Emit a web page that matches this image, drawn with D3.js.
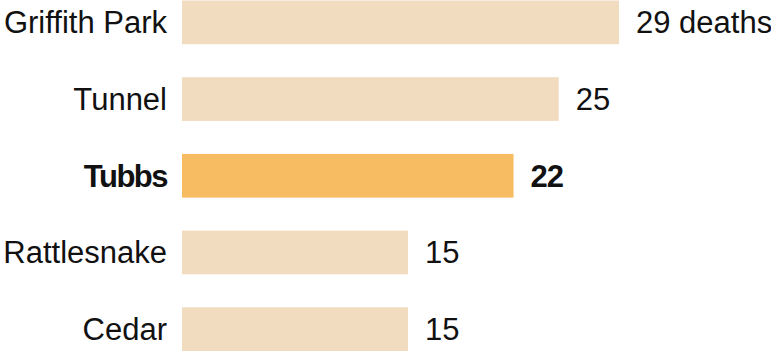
<!DOCTYPE html>
<html><head><meta charset="utf-8">
<script src="https://cdn.jsdelivr.net/npm/d3@7"></script>
<style>body{margin:0;background:#fff}svg{display:block}</style>
</head><body>
<script>
const categories = ["Griffith Park","Tunnel","Tubbs","Rattlesnake","Cedar"];
const values = [29,25,22,15,15];
const valueLabels = ["29 deaths","25","22","15","15"];
const highlight = "Tubbs";

const W=771,H=352;
const svg=d3.select("body").append("svg").attr("width",W).attr("height",H);
const x=d3.scaleLinear().domain([0,29]).range([182,619]);
const y=d3.scaleBand().domain(categories).range([0.5,351]).paddingInner(0.43).paddingOuter(0);
const font="'Liberation Sans',Arial,sans-serif";
const fs=31;

const data=categories.map((c,i)=>({c,v:values[i],l:valueLabels[i]}));
svg.selectAll("rect").data(data).join("rect")
 .attr("x",x(0)).attr("y",d=>y(d.c)).attr("width",d=>x(d.v)-x(0)).attr("height",y.bandwidth())
 .attr("fill",d=>d.c===highlight?"#f7bb62":"#f2dcc0");
svg.selectAll("text.cat").data(data).join("text").attr("class","cat")
 .attr("x",167).attr("y",d=>y(d.c)+y.bandwidth()/2).attr("dy","0.35em")
 .attr("text-anchor","end").attr("font-family",font).attr("font-size",fs)
 .attr("font-weight",d=>d.c===highlight?"bold":"normal")
 .attr("letter-spacing",d=>d.c===highlight?"-1.5":"0").attr("fill","#111")
 .text(d=>d.c);
svg.selectAll("text.val").data(data).join("text").attr("class","val")
 .attr("x",d=>x(d.v)+17).attr("y",d=>y(d.c)+y.bandwidth()/2).attr("dy","0.35em")
 .attr("font-family",font).attr("font-size",fs)
 .attr("font-weight",d=>d.c===highlight?"bold":"normal")
 .attr("letter-spacing",d=>d.c===highlight?"-1":"0").attr("fill","#111")
 .text(d=>d.l);
</script>
</body></html>
